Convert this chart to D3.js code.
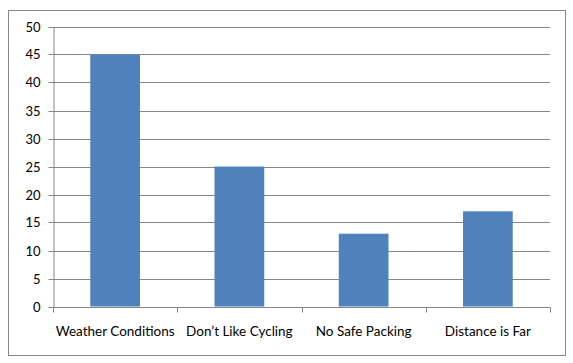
<!DOCTYPE html>
<html>
<head>
<meta charset="utf-8">
<script src="https://cdn.jsdelivr.net/npm/d3@7"></script>
<style>
  body { margin: 0; background: #fff; }
  text { font-family: Lato, "Open Sans", sans-serif; font-size: 13.5px; fill: #000; }
</style>
</head>
<body>
<div id="chart"></div>
<script>
const categories = ['Weather Conditions', 'Don\u2019t Like Cycling', 'No Safe Packing', 'Distance is Far']
const values = [45, 25, 13, 17]
const yTicks = [0, 5, 10, 15, 20, 25, 30, 35, 40, 45, 50]

const width = 573, height = 363
const margin = {top: 26.5, right: 23, bottom: 56.5, left: 53}

const svg = d3.select('#chart').append('svg')
  .attr('width', width)
  .attr('height', height)

// chart border
svg.append('rect')
  .attr('x', 8.5).attr('y', 10.5)
  .attr('width', 557).attr('height', 345)
  .attr('fill', '#fff')
  .attr('stroke', '#878787')
  .attr('stroke-width', 1)

const x = d3.scaleBand()
  .domain(categories)
  .range([margin.left, width - margin.right])
  .paddingInner(0.6)
  .paddingOuter(0.3)

const y = d3.scaleLinear()
  .domain([0, 50])
  .range([height - margin.bottom, margin.top])

// gridlines
svg.append('g')
  .selectAll('line')
  .data(yTicks.slice(1))
  .enter().append('line')
  .attr('x1', margin.left)
  .attr('x2', width - margin.right)
  .attr('y1', d => Math.round(y(d)) + 0.5)
  .attr('y2', d => Math.round(y(d)) + 0.5)
  .attr('stroke', '#868686')

// y axis
const yAxis = svg.append('g')
  .attr('transform', `translate(${margin.left + 0.5},0)`)
  .call(d3.axisLeft(y).tickValues(yTicks).tickSize(5).tickPadding(8).tickSizeOuter(0))
yAxis.select('.domain').attr('stroke', '#868686')
yAxis.selectAll('.tick line').attr('stroke', '#868686')
yAxis.selectAll('.tick').attr('transform', d => `translate(0,${Math.round(y(d)) + 0.5})`)
yAxis.selectAll('text').style('font-size', '13px').attr('font-family', null)

// bars
svg.append('g')
  .selectAll('rect')
  .data(values)
  .enter().append('rect')
  .attr('x', (d, i) => x(categories[i]))
  .attr('y', d => y(d))
  .attr('width', x.bandwidth())
  .attr('height', d => y(0) - y(d))
  .attr('fill', '#4F81BD')

// x axis with ticks at band boundaries
const step = (width - margin.right - margin.left) / categories.length
const xg = svg.append('g')
  .attr('transform', `translate(0,${Math.round(y(0)) + 0.5})`)
xg.append('line')
  .attr('x1', margin.left).attr('x2', width - margin.right)
  .attr('stroke', '#868686')
xg.selectAll('line.tk')
  .data(d3.range(categories.length + 1))
  .enter().append('line')
  .attr('class', 'tk')
  .attr('x1', i => Math.round(margin.left + i * step) + 0.5)
  .attr('x2', i => Math.round(margin.left + i * step) + 0.5)
  .attr('y1', 0).attr('y2', 5)
  .attr('stroke', '#868686')
xg.selectAll('text')
  .data(categories)
  .enter().append('text')
  .attr('x', d => x(d) + x.bandwidth() / 2)
  .attr('y', 28)
  .attr('text-anchor', 'middle')
  .text(d => d)
</script>
</body>
</html>
